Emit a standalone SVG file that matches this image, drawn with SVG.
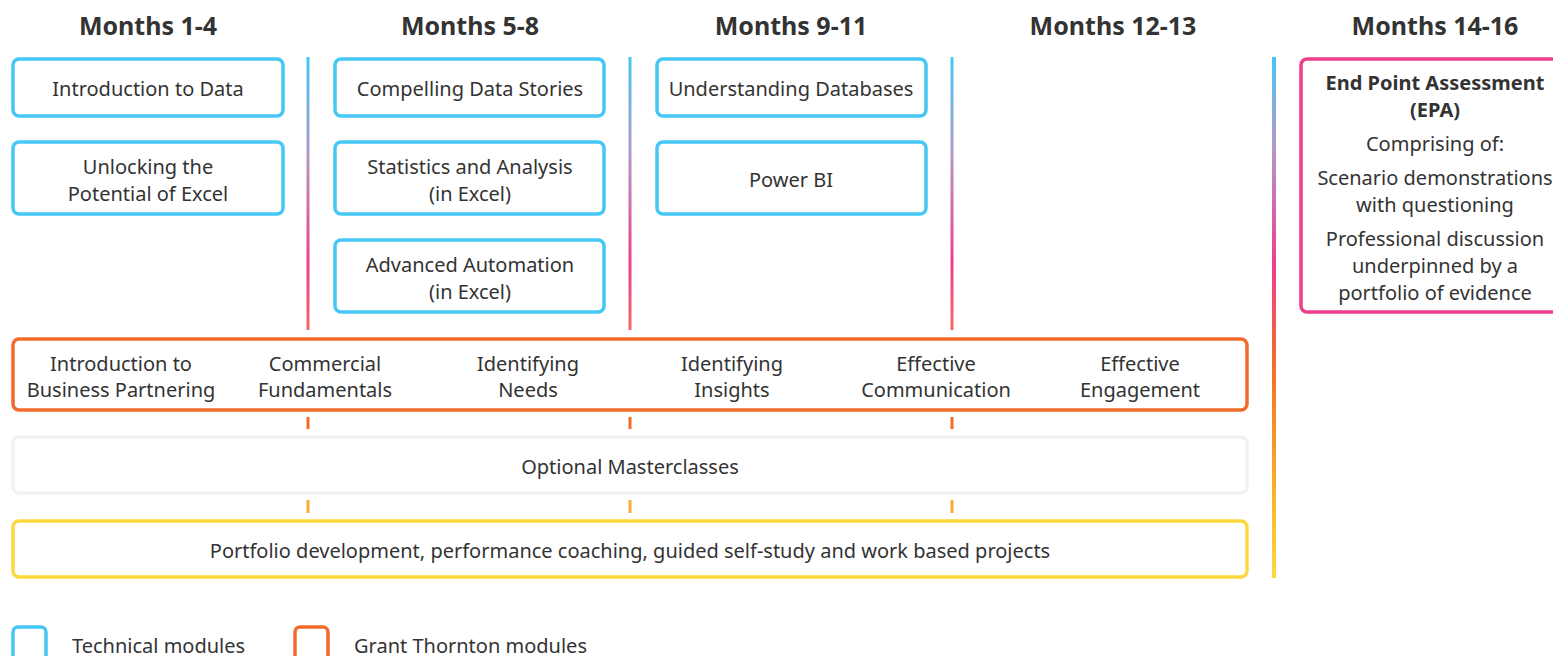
<svg xmlns="http://www.w3.org/2000/svg" width="1553" height="656" viewBox="0 0 1553 656">
<defs>
<style>
text{font-family:"Noto Sans","Liberation Sans",sans-serif;fill:#333333;font-size:20px;text-anchor:middle}
.h{font-weight:bold;font-size:25px}
.b{font-weight:bold}
.tech{fill:#fff;stroke:#45c8f5;stroke-width:3.5}
.gt{fill:#fff;stroke:#f26b2b;stroke-width:3.5}
.opt{fill:#fff;stroke:#f2f2f2;stroke-width:3.5}
.port{fill:#fff;stroke:#fdd93f;stroke-width:3.5}
.epa{fill:#fff;stroke:#ec3f8c;stroke-width:3.5}
.leg{text-anchor:start}
</style>
<linearGradient id="gShort" x1="0" y1="57" x2="0" y2="330" gradientUnits="userSpaceOnUse">
<stop offset="0" stop-color="#45c8f5"/>
<stop offset="0.35" stop-color="#b39ac8"/>
<stop offset="0.75" stop-color="#ec3f8c"/>
<stop offset="1" stop-color="#f06a6a"/>
</linearGradient>
<linearGradient id="gTall" x1="0" y1="57" x2="0" y2="578" gradientUnits="userSpaceOnUse">
<stop offset="0" stop-color="#45c8f5"/>
<stop offset="0.17" stop-color="#b39ac8"/>
<stop offset="0.4" stop-color="#ec3f8c"/>
<stop offset="0.58" stop-color="#f26b2b"/>
<stop offset="0.8" stop-color="#f7a92a"/>
<stop offset="1" stop-color="#fdd93f"/>
</linearGradient>
</defs>
<rect width="1553" height="656" fill="#ffffff"/>

<g id="headers">
<text class="h" x="148" y="35">Months 1-4</text>
<text class="h" x="470" y="35">Months 5-8</text>
<text class="h" x="791" y="35">Months 9-11</text>
<text class="h" x="1113" y="35">Months 12-13</text>
<text class="h" x="1435" y="35">Months 14-16</text>
</g>

<g id="connectors">
<rect x="306.5" y="57" width="3" height="273" fill="url(#gShort)"/>
<rect x="628.5" y="57" width="3" height="273" fill="url(#gShort)"/>
<rect x="950.5" y="57" width="3" height="273" fill="url(#gShort)"/>
<rect x="1272" y="57" width="4" height="521" fill="url(#gTall)"/>
<g fill="#f26b2b">
<rect x="306.5" y="417" width="3" height="12"/>
<rect x="628.5" y="417" width="3" height="12"/>
<rect x="950.5" y="417" width="3" height="12"/>
</g>
<g fill="#f7ac35">
<rect x="306.5" y="500" width="3" height="13"/>
<rect x="628.5" y="500" width="3" height="13"/>
<rect x="950.5" y="500" width="3" height="13"/>
</g>
</g>

<g id="intro-data"><rect class="tech" x="13" y="59" width="270" height="57" rx="6"/><text x="148" y="96">Introduction to Data</text></g>
<g id="excel"><rect class="tech" x="13" y="142" width="270" height="72" rx="6"/><text x="148" y="174">Unlocking the</text><text x="148" y="201">Potential of Excel</text></g>
<g id="data-stories"><rect class="tech" x="335" y="59" width="269" height="57" rx="6"/><text x="470" y="96">Compelling Data Stories</text></g>
<g id="stats"><rect class="tech" x="335" y="142" width="269" height="72" rx="6"/><text x="470" y="174">Statistics and Analysis</text><text x="470" y="201">(in Excel)</text></g>
<g id="automation"><rect class="tech" x="335" y="240" width="269" height="72" rx="6"/><text x="470" y="272">Advanced Automation</text><text x="470" y="299">(in Excel)</text></g>
<g id="databases"><rect class="tech" x="657" y="59" width="269" height="57" rx="6"/><text x="791" y="96">Understanding Databases</text></g>
<g id="powerbi"><rect class="tech" x="657" y="142" width="269" height="72" rx="6"/><text x="791" y="187">Power BI</text></g>

<g id="gt-modules"><rect class="gt" x="13" y="339" width="1234" height="71" rx="6"/>
<text x="121" y="371">Introduction to</text><text x="121" y="397">Business Partnering</text>
<text x="325" y="371">Commercial</text><text x="325" y="397">Fundamentals</text>
<text x="528" y="371">Identifying</text><text x="528" y="397">Needs</text>
<text x="732" y="371">Identifying</text><text x="732" y="397">Insights</text>
<text x="936" y="371">Effective</text><text x="936" y="397">Communication</text>
<text x="1140" y="371">Effective</text><text x="1140" y="397">Engagement</text>
</g>

<g id="masterclasses"><rect class="opt" x="13" y="437" width="1234" height="56" rx="6"/><text x="630" y="474">Optional Masterclasses</text></g>
<g id="portfolio"><rect class="port" x="13" y="521" width="1234" height="56" rx="6"/><text x="630" y="558">Portfolio development, performance coaching, guided self-study and work based projects</text></g>

<g id="epa"><rect class="epa" x="1301" y="59" width="270" height="253" rx="6"/>
<text class="b" x="1435" y="90">End Point Assessment</text>
<text class="b" x="1435" y="117">(EPA)</text>
<text x="1435" y="151">Comprising of:</text>
<text x="1435" y="185">Scenario demonstrations</text>
<text x="1435" y="212">with questioning</text>
<text x="1435" y="246">Professional discussion</text>
<text x="1435" y="273">underpinned by a</text>
<text x="1435" y="300">portfolio of evidence</text>
</g>

<g id="legend">
<rect class="tech" x="13" y="627" width="33" height="40" rx="5"/>
<text class="leg" x="72" y="653">Technical modules</text>
<rect class="gt" x="295" y="627" width="33" height="40" rx="5"/>
<text class="leg" x="354" y="653">Grant Thornton modules</text>
</g>
</svg>
